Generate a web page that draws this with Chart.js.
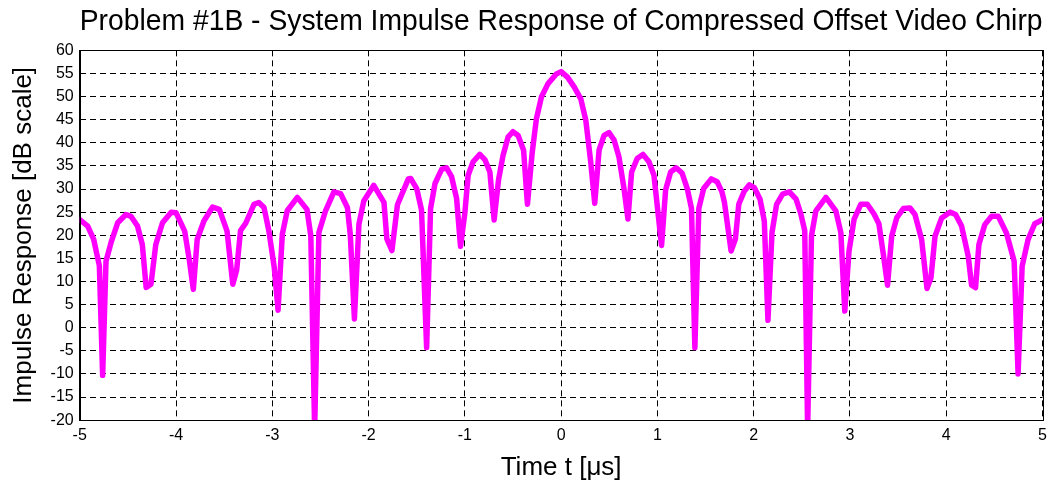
<!DOCTYPE html>
<html>
<head>
<meta charset="utf-8">
<script src="https://cdn.jsdelivr.net/npm/chart.js@4.4.1/dist/chart.umd.min.js"></script>
<style>
  html, body { margin: 0; padding: 0; background: #fff; }
  #wrap { width: 1053px; height: 482px; }
</style>
</head>
<body>
<div id="wrap"><canvas id="impulseChart" width="1053" height="482"></canvas></div>
<script>
// time axis (microseconds) and the response in dB
const timeUs = [
  -5.0, -4.917, -4.855, -4.796, -4.762, -4.727, -4.675, -4.606, -4.52, -4.468,
  -4.40, -4.35, -4.31, -4.26, -4.21, -4.14, -4.05, -4.0, -3.91, -3.86,
  -3.82, -3.78, -3.71, -3.62, -3.55, -3.47, -3.41, -3.37, -3.33, -3.276,
  -3.19, -3.14, -3.086, -3.035, -2.98, -2.94, -2.896, -2.845, -2.74, -2.64,
  -2.60, -2.56, -2.516, -2.447, -2.36, -2.29, -2.22, -2.19, -2.147, -2.10,
  -2.05, -1.946, -1.84, -1.81, -1.757, -1.70, -1.587, -1.563, -1.50, -1.45,
  -1.397, -1.356, -1.31, -1.24, -1.19, -1.138, -1.086, -1.045, -1.0, -0.966,
  -0.914, -0.845, -0.79, -0.74, -0.696, -0.65, -0.603, -0.55, -0.50, -0.447,
  -0.39, -0.35, -0.30, -0.257, -0.205, -0.136, -0.05, 0.0, 0.066, 0.135,
  0.204, 0.256, 0.307, 0.349, 0.394, 0.446, 0.497, 0.55, 0.60, 0.653,
  0.694, 0.732, 0.79, 0.85, 0.912, 0.964, 1.005, 1.043, 1.085, 1.137,
  1.195, 1.257, 1.31, 1.354, 1.389, 1.43, 1.48, 1.56, 1.62, 1.67,
  1.696, 1.765, 1.81, 1.845, 1.903, 1.955, 2.007, 2.066, 2.11, 2.148,
  2.19, 2.238, 2.30, 2.37, 2.44, 2.49, 2.53, 2.56, 2.60, 2.646,
  2.75, 2.853, 2.905, 2.946, 2.99, 3.043, 3.112, 3.18, 3.25, 3.30,
  3.347, 3.39, 3.433, 3.485, 3.554, 3.623, 3.675, 3.744, 3.80, 3.841,
  3.883, 3.952, 4.038, 4.097, 4.159, 4.228, 4.263, 4.304, 4.339, 4.40,
  4.47, 4.54, 4.625, 4.705, 4.746, 4.788, 4.85, 4.919, 5.0
];
const responseDb = [
  23.4, 22.0, 19.1, 13.4, -10.3, 14.4, 18.4, 22.7, 24.5, 24.1,
  22.0, 18.0, 8.7, 9.4, 18.0, 22.7, 25.0, 24.9, 20.9, 14.4,
  8.3, 19.1, 23.1, 26.1, 25.6, 20.9, 9.4, 12.5, 21.0, 22.6,
  26.7, 27.1, 26.0, 20.9, 13.1, 3.8, 20.2, 25.3, 28.2, 25.6,
  19.9, -22.0, 20.6, 25.3, 29.4, 29.0, 26.0, 20.2, 1.9, 22.4,
  27.4, 30.8, 27.1, 19.2, 16.7, 26.6, 32.2, 32.3, 30.1, 25.5,
  -4.3, 25.8, 31.2, 34.3, 34.6, 32.7, 28.0, 17.6, 24.8, 33.0,
  35.9, 37.5, 36.3, 33.7, 23.3, 32.0, 37.3, 41.3, 42.4, 41.6,
  38.4, 26.7, 38.0, 45.2, 49.9, 52.8, 54.9, 55.4, 54.2, 52.1,
  49.5, 44.9, 35.9, 26.9, 38.4, 41.6, 42.2, 40.6, 37.0, 30.1,
  23.5, 33.7, 36.6, 37.5, 35.9, 33.0, 25.1, 17.8, 29.8, 33.7,
  34.6, 33.4, 30.1, 25.8, -4.3, 25.8, 30.1, 32.2, 31.6, 29.4,
  27.1, 16.6, 19.2, 26.7, 29.6, 30.9, 30.3, 27.8, 23.1, 1.6,
  20.6, 26.7, 28.9, 29.4, 27.8, 24.6, 21.0, -22.0, 19.9, 25.3,
  28.2, 25.3, 20.6, 3.6, 16.6, 23.5, 26.7, 26.7, 24.6, 22.5,
  15.8, 9.2, 19.8, 23.75, 25.8, 25.9, 24.5, 19.1, 8.5, 10.8,
  19.8, 23.75, 25.0, 24.5, 22.0, 15.5, 9.2, 8.7, 18.0, 22.3,
  24.1, 24.1, 20.5, 14.4, -10.0, 13.3, 19.1, 22.5, 23.4
];
const xTicks = [-5, -4, -3, -2, -1, 0, 1, 2, 3, 4, 5];
const yTicks = [-20, -15, -10, -5, 0, 5, 10, 15, 20, 25, 30, 35, 40, 45, 50, 55, 60];

const fontFamily = '"Liberation Sans", Arial, Helvetica, sans-serif';

// box round the plot area, like matlab draws it
const frameBox = {
  id: 'frameBox',
  afterDraw(chart) {
    const { ctx, chartArea: a } = chart;
    ctx.save();
    ctx.strokeStyle = '#000';
    ctx.lineWidth = 1;
    ctx.strokeRect(Math.round(a.left) + 0.5, Math.round(a.top) + 0.5,
                   Math.round(a.right - a.left), Math.round(a.bottom - a.top));
    ctx.restore();
  }
};

const ctx = document.getElementById('impulseChart').getContext('2d');
const impulseChart = new Chart(ctx, {
  type: 'line',
  data: {
    datasets: [{
      label: 'Impulse response',
      data: timeUs.map((t, i) => ({ x: t, y: responseDb[i] })),
      borderColor: '#ff00ff',
      borderWidth: 5.5,
      pointRadius: 0,
      tension: 0,
      borderJoinStyle: 'round',
      borderCapStyle: 'round',
      clip: 0
    }]
  },
  options: {
    responsive: false,
    animation: false,
    layout: { padding: { left: 10, right: 3, top: 5, bottom: 0 } },
    plugins: {
      legend: { display: false },
      tooltip: { enabled: false },
      title: {
        display: true,
        fullSize: false,
        text: 'Problem #1B - System Impulse Response of Compressed Offset Video Chirp',
        color: '#000',
        font: { family: fontFamily, size: 29, weight: 'normal', lineHeight: 1.15 },
        padding: { top: 0, bottom: 12 }
      }
    },
    scales: {
      x: {
        type: 'linear',
        min: -5,
        max: 5,
        afterBuildTicks: (scale) => { scale.ticks = xTicks.map(v => ({ value: v })); },
        ticks: {
          color: '#000',
          font: { family: fontFamily, size: 16 },
          padding: 6,
          maxRotation: 0
        },
        grid: { color: '#000', lineWidth: 1, drawTicks: false },
        border: { display: true, color: '#000', dash: [6, 4] },
        title: {
          display: true,
          text: 'Time t [μs]',
          color: '#000',
          font: { family: fontFamily, size: 26, lineHeight: 1.1 },
          padding: { top: 2, bottom: 0 }
        }
      },
      y: {
        min: -20,
        max: 60,
        afterBuildTicks: (scale) => { scale.ticks = yTicks.map(v => ({ value: v })); },
        ticks: {
          color: '#000',
          font: { family: fontFamily, size: 16 },
          padding: 6
        },
        grid: { color: '#000', lineWidth: 1, drawTicks: false },
        border: { display: true, color: '#000', dash: [6, 4] },
        title: {
          display: true,
          text: 'Impulse Response [dB scale]',
          color: '#000',
          font: { family: fontFamily, size: 26, lineHeight: 1.1 },
          padding: { top: 0, bottom: 6 }
        }
      }
    }
  },
  plugins: [frameBox]
});
</script>
</body>
</html>
